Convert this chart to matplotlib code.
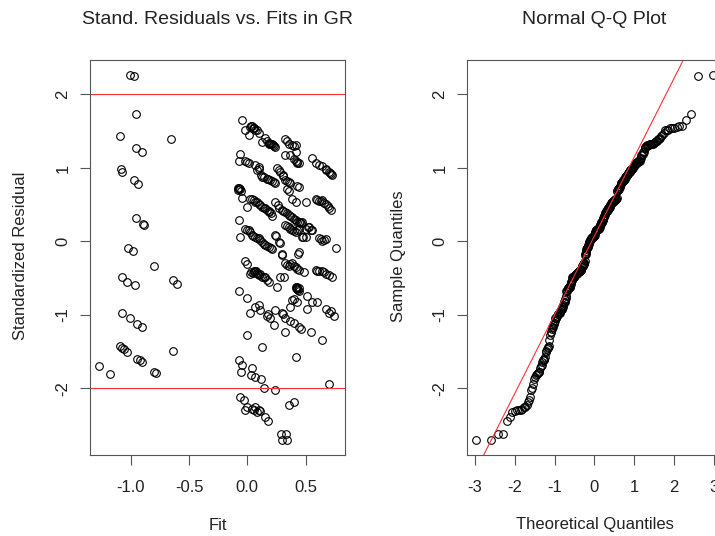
import numpy as np
import matplotlib
import matplotlib.pyplot as plt
from statistics import NormalDist
matplotlib.use("Agg")

# Fitted values and standardized residuals
fit_left = [-1.006, -0.977, -0.96, -1.095, -0.653, -0.96, -0.908, -1.089, -1.08, -0.977,
            -0.94, -0.96, -0.90, -0.89, -1.026, -0.98, -0.80, -1.078, -1.037, -0.968,
            -0.635, -0.60, -1.078, -1.009, -0.946, -0.905, -1.095, -1.078, -1.06, -1.037,
            -0.946, -0.925, -0.905, -0.635, -1.27, -1.18, -0.80, -0.785]
res_left = [2.27, 2.25, 1.74, 1.43, 1.39, 1.27, 1.21, 0.99, 0.94, 0.83,
            0.78, 0.32, 0.24, 0.22, -0.09, -0.13, -0.34, -0.49, -0.56, -0.59,
            -0.53, -0.58, -0.98, -1.05, -1.12, -1.17, -1.43, -1.45, -1.47, -1.50,
            -1.60, -1.62, -1.64, -1.49, -1.70, -1.81, -1.78, -1.79]

fit_upper = [-0.046, -0.018, 0.026, 0.040, 0.054, 0.069, 0.011, 0.097, 0.126, 0.155,
             0.184, 0.198, 0.212, 0.227, 0.241,
             0.322, 0.356, 0.385, 0.414, 0.327, 0.370, 0.399, 0.428, 0.442, 0.419,
             0.557, 0.586, 0.615, 0.644, 0.672, 0.701, 0.730,
             -0.061, -0.069, -0.023, 0.011, 0.069, 0.097, 0.083, 0.126, 0.169, 0.198,
             0.227, 0.256, 0.284, 0.304, 0.327, 0.356, 0.342, 0.385, 0.414, 0.442,
             0.506, 0.586, 0.615, 0.644, 0.672, 0.715,
             -0.081, -0.069, -0.055, -0.046, -0.003, 0.026, 0.054, 0.069, 0.097, 0.126,
             0.155, 0.184, 0.212, 0.241, 0.270, 0.299, 0.327, 0.356, 0.385, 0.414,
             0.442, 0.471, 0.500, 0.529, 0.557, 0.615, 0.644, 0.672, 0.758,
             -0.075, -0.061, -0.018, 0.011, 0.040, 0.069, 0.097, 0.126, 0.155, 0.184,
             0.212, 0.241, 0.270, 0.299, 0.327, 0.356, 0.385, 0.414, 0.442, 0.471,
             0.500, 0.442]
res_upper = [1.65, 1.51, 1.56, 1.57, 1.54, 1.52, 1.45, 1.47, 1.35, 1.41,
             1.34, 1.32, 1.33, 1.30, 1.28,
             1.39, 1.33, 1.31, 1.31, 1.18, 1.17, 1.12, 1.08, 1.06, 1.22,
             1.13, 1.06, 1.04, 1.03, 0.99, 0.94, 0.91,
             1.19, 1.10, 1.10, 1.06, 1.04, 1.01, 0.97, 0.88, 0.85, 0.84,
             0.81, 1.00, 0.94, 0.91, 0.84, 0.81, 0.71, 0.58, 0.54, 0.74,
             0.54, 0.57, 0.55, 0.56, 0.51, 0.42,
             0.72, 0.71, 0.69, 0.59, 0.47, 0.58, 0.56, 0.54, 0.51, 0.47,
             0.45, 0.40, 0.35, 0.54, 0.45, 0.42, 0.40, 0.36, 0.33, 0.29,
             0.26, 0.26, 0.17, 0.20, 0.15, 0.05, 0.01, 0.03, -0.09,
             0.29, 0.06, 0.17, 0.15, 0.08, 0.06, 0.04, -0.01, -0.05, -0.08,
             -0.10, 0.08, -0.01, -0.17, 0.22, 0.20, 0.15, 0.13, 0.17, 0.06,
             0.06, -0.15]

fit_lower = [-0.023, -0.003, 0.026, 0.054, 0.069, 0.083, 0.097, 0.112, 0.126, 0.155,
             0.184, 0.256, 0.284, 0.313, 0.299, 0.327, 0.356, 0.385, 0.414, 0.442,
             0.485, 0.586, 0.615, 0.644, 0.672, 0.701, 0.730, 0.437,
             -0.075, -0.003, 0.414, 0.428, 0.442, 0.399, 0.370, 0.428, 0.514, 0.557,
             0.600, 0.514, 0.672, 0.701, 0.744,
             0.026, 0.069, 0.097, 0.112, 0.169, 0.198, 0.227, 0.241, 0.299, 0.327,
             0.370, 0.399, 0.442, 0.465, 0.543, 0.644, 0.322, -0.003, 0.126,
             0.419, -0.075, -0.046, -0.052, 0.040, 0.034, 0.069, 0.120, 0.140, 0.235,
             0.701,
             -0.060, -0.032, -0.017, 0.040, 0.069, 0.084, 0.098, 0.155, 0.178, 0.356,
             0.400, 0.000, 0.060, 0.110, 0.290, 0.330, 0.300, 0.340]
res_lower = [-0.27, -0.31, -0.44, -0.42, -0.40, -0.43, -0.46, -0.44, -0.48, -0.49,
             -0.55, -0.62, -0.49, -0.49, -0.19, -0.30, -0.33, -0.30, -0.35, -0.39,
             -0.42, -0.39, -0.40, -0.40, -0.44, -0.46, -0.49, -0.17,
             -0.68, -0.77, -0.62, -0.64, -0.67, -0.78, -0.89, -0.83, -0.74, -0.83,
             -0.83, -0.92, -0.92, -0.98, -1.01,
             -0.98, -0.89, -0.87, -0.94, -1.02, -1.05, -1.14, -0.93, -0.98, -1.04,
             -1.08, -1.11, -1.17, -1.19, -1.23, -1.34, -1.24, -1.28, -1.44,
             -1.57, -1.62, -1.69, -1.78, -1.73, -1.82, -1.85, -1.88, -2.00, -2.03,
             -1.94,
             -2.12, -2.16, -2.29, -2.28, -2.25, -2.32, -2.29, -2.39, -2.44, -2.23,
             -2.19, -2.26, -2.30, -2.31, -2.62, -2.62, -2.71, -2.71]

# Overlapping circles in the dark, crowded parts of the bands
fit_dense = [0.05, 0.06, 0.08, 0.03, 0.19, 0.205, 0.22, 0.17, 0.34, 0.40,
             0.43, 0.415, 0.00,
             0.71, 0.72, 0.68, 0.14, 0.18, 0.21, 0.24, 0.27, 0.31, 0.34,
             0.37, 0.43, 0.36, 0.12, 0.10, 0.60, 0.63, 0.66, 0.69, 0.70,
             -0.075, -0.08, -0.06, 0.04, 0.08, 0.11, 0.14, 0.17, 0.20, 0.19,
             0.26, 0.31, 0.34, 0.37, 0.40, 0.43, 0.45, 0.46, 0.52, 0.55,
             0.63, 0.66,
             0.00, 0.02, 0.05, 0.08, 0.11, 0.14, 0.17, 0.20, 0.34, 0.37,
             0.40, 0.43, 0.48, 0.25, 0.28,
             0.03, 0.045, 0.06, 0.075, 0.09, 0.14, 0.17, 0.34, 0.37, 0.40,
             0.43, 0.60, 0.66, 0.42, 0.425, 0.435, 0.43, 0.445, 0.38, 0.72,
             0.31, 0.18]
res_dense = [1.55, 1.54, 1.51, 1.57, 1.33, 1.32, 1.31, 1.37, 1.36, 1.30,
             1.07, 1.09, 1.08,
             0.93, 0.92, 0.97, 0.87, 0.85, 0.82, 0.80, 0.97, 0.89, 0.82,
             0.80, 0.76, 0.69, 0.90, 0.98, 0.56, 0.55, 0.52, 0.48, 0.45,
             0.73, 0.70, 0.71, 0.57, 0.53, 0.49, 0.46, 0.43, 0.38, 0.41,
             0.50, 0.41, 0.38, 0.35, 0.31, 0.27, 0.26, 0.25, 0.19, 0.16,
             0.03, 0.02,
             0.16, 0.13, 0.07, 0.05, 0.02, -0.03, -0.06, -0.09, 0.21, 0.17,
             0.14, 0.15, 0.06, 0.07, -0.02,
             -0.42, -0.43, -0.41, -0.41, -0.45, -0.49, -0.52, -0.32, -0.31, -0.33,
             -0.37, -0.40, -0.42, -0.63, -0.65, -0.66, -0.62, -0.64, -0.80, -0.95,
             -0.99, -0.99]

fits = np.array(fit_left + fit_upper + fit_lower + fit_dense)
resid = np.array(res_left + res_upper + res_lower + res_dense)

plt.rcParams["font.family"] = ["Liberation Sans", "DejaVu Sans"]
plt.rcParams["axes.unicode_minus"] = False

ink = "#222222"
grey = "#555555"


def r_lim(v):
    # R pads the data range by 4% on each side
    lo, hi = np.min(v), np.max(v)
    pad = 0.04 * (hi - lo)
    return lo - pad, hi + pad


def r_style(ax):
    for s in ax.spines.values():
        s.set_color(grey)
        s.set_linewidth(0.8)
    ax.tick_params(direction="out", length=7, width=0.8, color=grey,
                   labelsize=12, labelcolor=ink)
    ax.tick_params(axis="x", pad=11)
    ax.tick_params(axis="y", pad=7)
    for t in ax.get_yticklabels():
        t.set_rotation(90)
        t.set_va("center")


fig = plt.figure(figsize=(7.15, 5.36), dpi=100)
W, H = 715, 536
ax1 = fig.add_axes([90 / W, 1 - 455 / H, 255 / W, 395 / H])
ax2 = fig.add_axes([467 / W, 1 - 455 / H, 255 / W, 395 / H])

mk = dict(marker="o", linestyle="none", markersize=5.5, markerfacecolor="none",
          markeredgecolor="black", markeredgewidth=0.8)

# Left: residuals vs fits
ax1.plot(fits, resid, **mk)
ax1.axhline(2, color="#ff3030", lw=0.8)
ax1.axhline(-2, color="#ff3030", lw=0.8)
ax1.set_xlim(*r_lim(fits))
ax1.set_ylim(*r_lim(resid))
ax1.set_xticks([-1.0, -0.5, 0.0, 0.5])
ax1.set_xticklabels(["-1.0", "-0.5", "0.0", "0.5"])
ax1.set_yticks([-2, -1, 0, 1, 2])
r_style(ax1)

# Right: normal Q-Q plot
n = len(resid)
probs = (np.arange(1, n + 1) - 0.5) / n
theo = np.array([NormalDist().inv_cdf(p) for p in probs])
samp = np.sort(resid)
ax2.plot(theo, samp, **mk)
q_y = np.percentile(resid, [25, 75])
q_x = np.array([NormalDist().inv_cdf(0.25), NormalDist().inv_cdf(0.75)])
slope = (q_y[1] - q_y[0]) / (q_x[1] - q_x[0])
icpt = q_y[0] - slope * q_x[0]
xl = r_lim(theo)
ax2.set_xlim(*xl)
ax2.set_ylim(*r_lim(samp))
ax2.plot(list(xl), [icpt + slope * xl[0], icpt + slope * xl[1]], color="#ff3030", lw=0.8)
ax2.set_xticks([-3, -2, -1, 0, 1, 2, 3])
ax2.set_yticks([-2, -1, 0, 1, 2])
r_style(ax2)

fig.text(217.5 / W, 1 - 19 / H, "Stand. Residuals vs. Fits in GR", ha="center", va="center",
         fontsize=14, color=ink)
fig.text(594.5 / W, 1 - 19 / H, "Normal Q-Q Plot", ha="center", va="center",
         fontsize=14, color=ink)
fig.text(217.5 / W, 1 - 525 / H, "Fit", ha="center", va="center", fontsize=12, color=ink)
fig.text(594.5 / W, 1 - 525 / H, "Theoretical Quantiles", ha="center", va="center",
         fontsize=12, color=ink)
fig.text(21 / W, 1 - 256 / H, "Standardized Residual", ha="center", va="center",
         rotation=90, fontsize=12, color=ink)
fig.text(398 / W, 1 - 256 / H, "Sample Quantiles", ha="center", va="center",
         rotation=90, fontsize=12, color=ink)

fig.savefig("out.png", dpi=100)
